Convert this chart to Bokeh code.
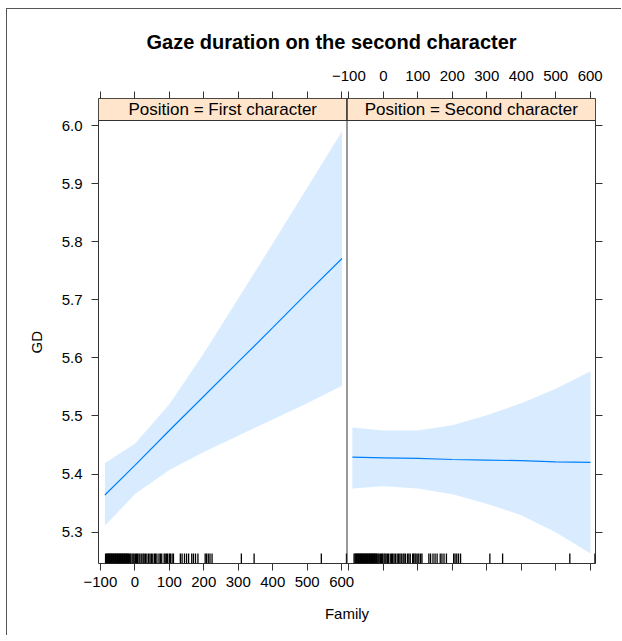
import math
from bokeh.plotting import figure
from bokeh.models import (Range1d, LinearAxis, FixedTicker, PrintfTickFormatter,
                          CustomJSTickFormatter, Span, Title)
from bokeh.embed import file_html
from bokeh.resources import INLINE
from bokeh.core.properties import value

# ---------------- data ----------------
TITLE = "Gaze duration on the second character"
PANELS = ["Position = First character", "Position = Second character"]
X_LABEL = "Family"
Y_LABEL = "GD"
X_TICKS = [-100, 0, 100, 200, 300, 400, 500, 600]
Y_TICKS = [5.3, 5.4, 5.5, 5.6, 5.7, 5.8, 5.9, 6.0]

# Panel 1: Position = First character
p1_x = [-87, 0, 100, 200, 300, 400, 500, 601]
p1_fit = [5.364, 5.415, 5.475, 5.534, 5.593, 5.652, 5.712, 5.771]
p1_lower = [5.311, 5.365, 5.407, 5.438, 5.466, 5.494, 5.522, 5.552]
p1_upper = [5.419, 5.452, 5.520, 5.608, 5.702, 5.797, 5.893, 5.990]

# Panel 2: Position = Second character
p2_x = [-90, 0, 100, 200, 300, 400, 500, 601]
p2_fit = [5.429, 5.428, 5.427, 5.425, 5.424, 5.423, 5.421, 5.420]
p2_lower = [5.375, 5.379, 5.375, 5.365, 5.349, 5.329, 5.300, 5.263]
p2_upper = [5.480, 5.475, 5.475, 5.484, 5.501, 5.522, 5.547, 5.577]

# rug of observed Family values
rug = [-85, -82, -80, -78, -76, -74, -72, -70, -68, -66, -64, -62, -60, -58,
       -56, -54, -52, -50, -48, -46, -44, -42, -40, -38, -36, -34, -32, -30,
       -28, -26, -24, -22, -20, -18, -15, -12, -8, -5, -2, 2, 5, 8, 12, 15,
       20, 24, 27, 31, 35, 40, 44, 48, 52, 57, 60, 64, 70, 74, 78, 85, 88,
       92, 95, 100, 103, 108, 112, 132, 137, 144, 150, 156, 165, 170, 176,
       183, 204, 208, 213, 218, 224, 309, 346, 541, 614]

# ---------------- layout constants ----------------
XLIM = (-105.5, 615.5)
YLIM = (5.246, 6.0086)
STRIP_H = 0.0379
RUG_H = 0.0172
SPAN = XLIM[1] - XLIM[0]
FONT = "Liberation Sans"
FRAME_COL = "#333333"
LINE_COL = "#0080ff"

p = figure(frame_width=497, frame_height=465,
           min_border_left=91, min_border_right=26,
           min_border_top=89, min_border_bottom=72,
           x_range=Range1d(XLIM[0], XLIM[1] + SPAN),
           y_range=Range1d(YLIM[0], YLIM[1] + STRIP_H),
           x_axis_location=None, y_axis_location=None,
           output_backend="svg", toolbar_location=None,
           margin=(8, 0, 0, 6),
           styles={"border-left": "1px solid #555555",
                   "border-top": "1px solid #555555"})
p.extra_x_ranges = {"p2": Range1d(XLIM[0] - SPAN, XLIM[1])}
p.xgrid.visible = False
p.ygrid.visible = False
p.outline_line_color = FRAME_COL
p.outline_line_width = 1
p.background_fill_color = "white"
p.border_fill_color = "white"

# main title
p.title.text = TITLE
p.title.align = "left"
p.title.offset = 48
p.title.standoff = 30
p.title.text_font = FONT
p.title.text_font_size = "20px"
p.title.text_font_style = "bold"
p.title.text_color = "black"


def style_axis(ax):
    ax.axis_line_color = None
    ax.major_tick_in = 0
    ax.major_tick_out = 7
    ax.major_tick_line_color = FRAME_COL
    ax.minor_tick_line_color = None
    ax.major_label_text_font = FONT
    ax.major_label_text_font_size = "15px"
    ax.major_label_text_color = "black"
    return ax


fmt_code = """
if (tick < lo - 1e-6 || tick > hi + 1e-6) { return ''; }
return tick < 0 ? '\u2212' + String(-tick) : String(tick);
"""

# bottom axis: labels for panel 1, bare ticks for panel 2
bottom = style_axis(LinearAxis(
    ticker=FixedTicker(ticks=X_TICKS + [t + SPAN for t in X_TICKS]),
    formatter=CustomJSTickFormatter(args=dict(lo=XLIM[0], hi=XLIM[1]), code=fmt_code)))
bottom.major_label_standoff = 6
bottom.axis_label = X_LABEL
bottom.axis_label_text_font = FONT
bottom.axis_label_text_font_size = "15px"
bottom.axis_label_text_font_style = "normal"
bottom.axis_label_text_color = "black"
bottom.axis_label_standoff = 15
p.add_layout(bottom, "below")

# top axis: bare ticks for panel 1, labels for panel 2
top = style_axis(LinearAxis(
    x_range_name="p2",
    ticker=FixedTicker(ticks=[t - SPAN for t in X_TICKS] + X_TICKS),
    formatter=CustomJSTickFormatter(args=dict(lo=XLIM[0], hi=XLIM[1]), code=fmt_code)))
top.major_label_standoff = 11
p.add_layout(top, "above")

left = style_axis(LinearAxis(ticker=FixedTicker(ticks=Y_TICKS),
                             formatter=PrintfTickFormatter(format="%.1f")))
left.major_label_standoff = 9
p.add_layout(left, "left")

right = style_axis(LinearAxis(ticker=FixedTicker(ticks=Y_TICKS),
                              formatter=CustomJSTickFormatter(code="return '';")))
p.add_layout(right, "right")

# y axis title
p.add_layout(Title(text=Y_LABEL, align="left", offset=210, standoff=27,
                   text_font=FONT, text_font_size="15px", text_font_style="normal",
                   text_color="black"), "left")

panels = [
    ("default", PANELS[0], p1_x, p1_fit, p1_lower, p1_upper),
    ("p2", PANELS[1], p2_x, p2_fit, p2_lower, p2_upper),
]

for rname, label, xs, fit, lo, hi in panels:
    # strip
    p.quad(left=[XLIM[0]], right=[XLIM[1]], bottom=[YLIM[1]], top=[YLIM[1] + STRIP_H],
           fill_color="#ffe5cc", line_color=FRAME_COL, line_width=1, x_range_name=rname)
    p.text(x=[(XLIM[0] + XLIM[1]) / 2], y=[YLIM[1] + STRIP_H / 2], text=[label],
           text_align="center", text_baseline="middle",
           text_font=value(FONT), text_font_size="17px", text_color="black",
           x_range_name=rname)
    # confidence band and fitted line
    p.varea(x=xs, y1=lo, y2=hi, fill_color=LINE_COL, fill_alpha=0.15, x_range_name=rname)
    p.line(x=xs, y=fit, line_color=LINE_COL, line_width=1.2, x_range_name=rname)
    # rug
    p.segment(x0=rug, y0=[YLIM[0]] * len(rug), x1=rug, y1=[YLIM[0] + RUG_H] * len(rug),
              line_color="black", line_width=1.3, x_range_name=rname)

p.add_layout(Span(location=XLIM[1], dimension="height", line_color=FRAME_COL, line_width=1))

open("out.html", "w").write(file_html(p, INLINE))
